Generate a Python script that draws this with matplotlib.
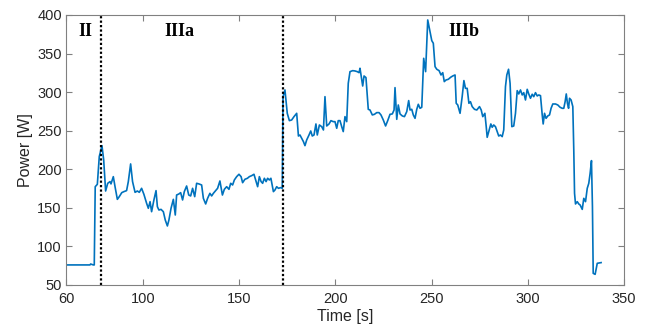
import matplotlib
matplotlib.use("Agg")
import matplotlib.pyplot as plt

time_s = [60, 72.5, 72.8, 74.2, 74.7, 75.2, 76.3, 77.3, 78.7, 79.6, 80.6, 81.7, 82.9, 83.4, 84.6, 85.5,
          86.7, 87.7, 89.0, 90.1, 91.5, 92.4, 93.6, 94.6, 95.9, 97.1, 98.1, 99.3, 100.5, 101.9, 102.8,
          103.7, 104.5, 105.7, 106.8, 107.5, 108.3, 109.4, 110.6, 111.6, 112.7, 113.5, 114.6, 115.8,
          116.8, 117.5, 118.7, 119.6, 120.6, 121.5, 122.7, 123.8, 124.8, 125.8, 126.9, 127.9, 129.1,
          130.5, 131.4, 132.6, 133.6, 134.8, 135.7, 136.6, 137.8, 138.8, 140.0, 141.3, 142.3, 143.5,
          144.7, 145.6, 146.6, 147.5, 148.7, 149.9, 151.0, 151.8, 153.0, 154.3, 155.3, 156.5, 157.7,
          158.8, 159.6, 160.5, 161.4, 162.2, 163.1, 164.0, 164.8, 165.7, 166.5, 167.8, 168.6, 169.5,
          170.4, 171.6, 172.4, 172.8, 173.8,
          175.0, 176.1, 177.3, 178.5, 179.9, 180.8, 181.6, 182.5, 183.4, 184.2, 185.1, 186.3, 187.2,
          188.0, 188.9, 189.9, 190.6, 191.7, 192.9, 193.8, 194.6, 195.5, 196.7, 197.7, 198.9, 199.8,
          200.7, 201.5, 202.4, 203.3, 204.1, 205.0, 205.9, 206.7, 207.6, 209.0, 210.2, 211.4, 212.3,
          212.8, 214.2, 214.9, 215.9, 217.1, 218.0, 219.2, 220.3, 221.5, 222.7, 223.7, 224.9, 226.1,
          227.2, 228.4, 229.6, 230.5, 231.0, 231.9, 232.7, 233.6, 234.8, 235.9, 237.1, 238.1, 238.8,
          239.7, 240.5, 241.4, 242.3, 243.1, 244.0, 244.9, 245.9, 246.9, 248.0, 249.2, 250.1, 250.9,
          251.8, 252.7, 253.9, 254.9, 255.8, 256.6, 257.5, 258.7, 259.9, 261.0, 262.2,
          262.8, 263.6, 264.8, 265.9, 266.8, 267.6, 268.5, 269.4, 270.2, 271.1, 272.3, 273.5, 274.9,
          275.8, 276.6, 277.7, 278.4, 278.9, 279.7, 280.8, 281.5, 282.3, 283.2, 284.1, 284.9, 285.8,
          286.7, 287.5, 288.4, 289.1, 290.0, 290.8, 291.7, 292.7, 293.6, 294.5, 295.3, 296.2, 297.1,
          297.9, 298.8, 299.7, 300.5, 301.4, 302.3, 303.1, 304.0, 304.9, 305.7, 306.6, 307.5, 308.0,
          308.7, 309.5, 310.4, 311.3, 312.1, 313.0, 314.4, 315.6, 316.8, 317.9, 318.7, 319.4, 320.0,
          320.6, 321.2, 321.7, 322.5, 323.4, 323.9, 324.3, 324.8, 325.7, 326.5, 327.2, 328.3, 329.1,
          330.0, 330.9, 331.7, 332.4, 333.1, 333.6, 334.0, 335.0, 336.1, 338.1]

power_w = [76, 76, 77.2, 76, 76, 177.4, 180.5, 216.4, 230.6, 212, 171.8, 181.8, 184, 181, 190.4, 177.4,
           161, 164.5, 169.7, 171, 172.3, 184, 206.9, 184, 170.1, 171.8, 170.1, 175.3, 167.5, 155.9, 149.4,
           158, 145, 160.2, 172.3, 151.5, 147.2, 148, 145, 134.2, 126.5, 134.2, 149.4, 161,
           140.7, 166.6, 168, 169.7, 160.2, 171, 178.3, 166.6, 165.4, 175.3, 164.5, 181.8, 181,
           179.6, 162.3, 155, 162.3, 168.8, 165.4, 168.8, 172.3, 175.3, 184.8, 166.6, 174, 177.4,
           174, 181.8, 179.6, 186.1, 190.4, 193.5, 190.4, 182.6, 187, 188.3, 190.4, 191.7, 193.5,
           184, 177.4, 190.4, 184, 181.8, 188.3, 184, 188.3, 186.1, 188.3, 171, 173.1, 177.4,
           175.3, 176.2, 175.3, 294, 302.8,
           272.5, 263.0, 263.9, 268.2, 272.5, 243.1, 244.4, 240.1, 235.8, 230.6, 238, 244.4, 249.6,
           243.1, 244.4, 258.7, 244.4, 257.4, 255.2, 250.9, 294.1, 256.1, 258.7, 263, 261.7, 261.7,
           253.1, 263, 263, 255.2, 248.8, 268.2, 261.7, 311.4, 326.5, 327.8, 327.4, 326.5, 325.2,
           330.9, 307.9, 320.9, 318.8, 277.7, 276.8, 270.4, 271.2, 273.4, 273.4, 270.4, 263.9, 256.1,
           263, 271.2, 271.7, 276.8, 305.8, 264.7, 283.3, 271.7, 269.1, 268.2, 274.7, 289, 276.8,
           277.7, 270.4, 266, 277.7, 284.2, 279, 280.3, 343.8, 326.5, 393.5, 378.4, 366.7, 363.3,
           333, 329.6, 327.8, 322.2, 325.2, 313.6, 315.7, 316.6, 319.2, 320.9, 322.2,
           285.5, 283.3, 272.5, 294.1, 314.9, 304.9, 304.9, 285.5, 287.6, 281.2, 277.7, 276.8, 281.2,
           276.8, 268.2, 272.5, 255.2, 241.4, 248.8, 258.7, 254.4, 257.4, 255.2, 248.8, 243.1, 244.4,
           242.3, 250.9, 307.1, 322.2, 329.6, 311.4, 255.2, 256.1, 272.5, 301.9, 297.6, 302.8, 296.3,
           299.3, 289.8, 303.6, 297.6, 292, 297.2, 294.1, 299.3, 295, 296.3, 295.4, 270.4, 258.7,
           272.5, 266, 269.1, 270.4, 279, 284.6, 284.6, 283.3, 280.3, 279, 279, 287.6, 297.6,
           285.5, 279, 292, 289.8, 281.2, 225, 168.8, 155, 158, 155, 153.7, 148, 162.3,
           158, 175.3, 181.8, 194.8, 211.2, 151.5, 65.1, 63.8, 78.1, 79.0]

phase_boundaries = [78.3, 172.6]
phase_labels = ["II", "IIIa", "IIIb"]
phase_label_x = [70, 119, 267]

x_ticks = [60, 100, 150, 200, 250, 300, 350]
y_ticks = [50, 100, 150, 200, 250, 300, 350, 400]

fig = plt.figure(figsize=(6.5, 3.32), dpi=100)
ax = fig.add_axes([0.1015, 0.1416, 0.8585, 0.8134])

ax.plot(time_s, power_w, color="#0072BD", linewidth=1.2)
for xb in phase_boundaries:
    ax.axvline(xb, color="black", linestyle=(0, (1, 1)), linewidth=1.6)

for lab, xl in zip(phase_labels, phase_label_x):
    ax.text(xl, 378, lab, ha="center", va="center", fontsize=13, fontweight="bold",
            family="Liberation Serif", color="black")

ax.set_xlim(60, 350)
ax.set_ylim(50, 400)
ax.set_xticks(x_ticks)
ax.set_yticks(y_ticks)
ax.tick_params(direction="in", top=True, right=True, length=4, width=0.8,
               colors="#808080", labelcolor="#262626", labelsize=10.5)
ax.tick_params(axis="x", pad=5)
ax.tick_params(axis="y", pad=3)
for lab in ax.get_xticklabels() + ax.get_yticklabels():
    lab.set_family("Liberation Sans")
for sp in ax.spines.values():
    sp.set_color("#808080")
    sp.set_linewidth(0.8)

ax.set_xlabel("Time [s]", fontsize=11.5, family="Liberation Sans", color="#262626", labelpad=2)
ax.set_ylabel("Power [W]", fontsize=11.5, family="Liberation Sans", color="#262626", labelpad=3)

fig.savefig("out.png", dpi=100)
